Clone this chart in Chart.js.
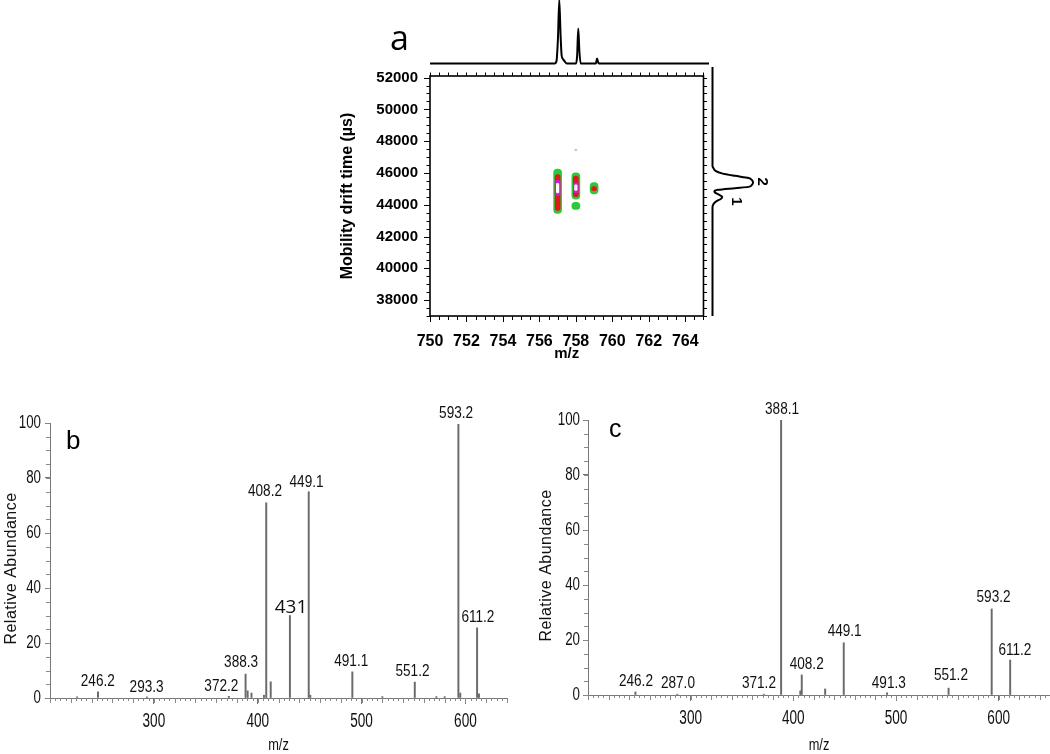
<!DOCTYPE html>
<html>
<head>
<meta charset="utf-8">
<script src="https://cdn.jsdelivr.net/npm/chart.js@4.4.1/dist/chart.umd.min.js"></script>
<style>
  body { margin: 0; background: #fff; width: 1050px; height: 754px; position: relative; overflow: hidden; }
  canvas { position: absolute; }
  .tag { position: absolute; color: #000; line-height: 1; }
</style>
</head>
<body>
<canvas id="topProj" width="280" height="66" style="left:430px;top:0px"></canvas>
<canvas id="mapA" width="385" height="310" style="left:330px;top:55px"></canvas>
<canvas id="sideProj" width="60" height="249" style="left:710px;top:67px"></canvas>
<canvas id="specB" width="520" height="359" style="left:0px;top:395px"></canvas>
<canvas id="specC" width="530" height="359" style="left:520px;top:395px"></canvas>
<div class="tag" style="left:390px;top:14px;font:34px 'Open Sans'">a</div>
<div class="tag" style="left:66px;top:425px;font:26px 'Liberation Sans'">b</div>
<div class="tag" style="left:609px;top:414px;font:25px 'Liberation Sans'">c</div>
<script>
// ---- panel a: m/z vs drift time map ----
const aXTicks = [750, 752, 754, 756, 758, 760, 762, 764];
const aYTicks = [38000, 40000, 42000, 44000, 46000, 48000, 50000, 52000];

// summed m/z profile on top
const topMz  = [750, 756.70, 756.80, 756.88, 756.95, 757.02, 757.08, 757.15, 757.25, 757.35, 757.85, 757.91, 757.97, 758.03, 758.10, 758.92, 758.98, 759.04, 759.10, 765];
const topInt = [0, 0, 4, 40, 100, 45, 12, 7, 3, 0, 0, 12, 55, 20, 0, 0, 8, 2, 0, 0];

// summed drift profile on the right
const sideDrift = [37000, 43600, 43800, 43950, 44100, 44220, 44350, 44480, 44560, 44650, 44750, 44830, 44950, 45100, 45250, 45370, 45500, 45650, 45800, 45950, 46100, 52100];
const sideInt   = [0, 0, 3, 10, 22, 26, 18, 7, 5, 15, 60, 96, 105, 108, 105, 96, 60, 25, 8, 3, 0, 0];
const sideLabText  = ['2', '1'];
const sideLabInt   = [132, 63];
const sideLabDrift = [45150, 43950];

// contour blobs: m/z, drift range, contour level (1 outer .. 4 inner, 0 faint)
const contourMz    = [757, 757, 757, 757, 758, 758, 758, 758, 758, 759, 759, 758];
const contourLow   = [43450, 43650, 44550, 44750, 44350, 44500, 44750, 44900, 43700, 44680, 44880, 47400];
const contourHigh  = [46250, 45900, 45550, 45350, 46000, 45800, 45400, 45250, 44150, 45400, 45150, 47500];
const contourLevel = [1, 2, 3, 4, 1, 2, 3, 4, 1, 1, 2, 0];

// ---- panel b: MS/MS spectrum ----
const bMz    = [226, 246.2, 293.3, 372.2, 388.3, 390.3, 394, 406, 408.2, 412.5, 431, 449.1, 450.6, 491.1, 520, 551.2, 572, 580, 593.2, 595, 611.2, 613];
const bAbund = [0.4, 2.2, 0.4, 0.6, 8.7, 2.6, 1.8, 1, 71, 5.9, 30, 75, 1, 9.5, 0.5, 5.8, 0.5, 0.5, 99.5, 1.8, 25.5, 1.5];
const bLabText = ['246.2', '293.3', '372.2', '388.3', '408.2', '449.1', '431', '491.1', '551.2', '593.2', '611.2'];
const bLabMz   = [246, 293, 365, 384, 407, 447, 432, 490, 549, 591, 612];
const bLabY    = [6.2, 4, 4.4, 13, 75, 78.5, 32.7, 13.5, 9.8, 103.6, 29.5];

// ---- panel c: MS/MS spectrum ----
const cMz    = [246.2, 287.0, 371.2, 388.1, 406.8, 408.2, 431, 449.1, 491.3, 551.2, 593.2, 611.2];
const cAbund = [1.1, 0.3, 0.3, 100, 1.5, 7.3, 2.2, 19, 0.8, 2.5, 31.3, 12.7];
const cLabText = ['246.2', '287.0', '371.2', '388.1', '408.2', '449.1', '491.3', '551.2', '593.2', '611.2'];
const cLabMz   = [246.7, 287.6, 366.5, 389, 413, 450, 493, 553.5, 595, 615.8];
const cLabY    = [5.1, 4.4, 4.4, 104, 11.3, 23, 4.4, 7, 35.6, 16.4];

const specXTicks = [300, 400, 500, 600];
const specYTicks = [0, 20, 40, 60, 80, 100];

const noLegend = { legend: { display: false }, tooltip: { enabled: false } };

function setTicks(values) {
  return function (scale) { scale.ticks = values.map(v => ({ value: v })); };
}

function tickRun(chart, axis, start, end, step, lenFn, edge, dir) {
  const s = chart.scales[axis];
  const ctx = chart.ctx;
  ctx.beginPath();
  for (let i = 0; start + i * step <= end + 1e-9; i++) {
    const v = start + i * step;
    const p = Math.round(s.getPixelForValue(v)) + 0.5;
    const len = lenFn(v);
    if (axis === 'x') { ctx.moveTo(p, edge); ctx.lineTo(p, edge + dir * len); }
    else { ctx.moveTo(edge, p); ctx.lineTo(edge + dir * len, p); }
  }
  ctx.stroke();
}

// condensed text, like the instrument software's narrow font
function narrowText(ctx, text, x, y, size, squeeze, align, rot) {
  ctx.save();
  ctx.translate(x, y);
  if (rot) ctx.rotate(rot);
  ctx.scale(squeeze, 1);
  ctx.font = size + "px 'Liberation Sans'";
  ctx.textAlign = align;
  ctx.textBaseline = 'middle';
  ctx.fillText(text, 0, 0);
  ctx.restore();
}

// top projection
new Chart(document.getElementById('topProj'), {
  type: 'line',
  data: {
    datasets: [{
      data: topMz.map((m, i) => ({ x: m, y: topInt[i] })),
      borderColor: '#000', borderWidth: 2, pointRadius: 0,
      cubicInterpolationMode: 'monotone', clip: false
    }]
  },
  options: {
    responsive: false, animation: false,
    layout: { padding: { left: 0, right: 1, top: 0, bottom: 2.5 } },
    plugins: noLegend,
    scales: {
      x: { type: 'linear', min: 750, max: 765, display: false },
      y: { min: 0, max: 100, display: false }
    }
  }
});

// right projection
new Chart(document.getElementById('sideProj'), {
  type: 'line',
  data: {
    datasets: [{
      data: sideDrift.map((d, i) => ({ x: sideInt[i], y: d })),
      borderColor: '#000', borderWidth: 2, pointRadius: 0,
      cubicInterpolationMode: 'monotone', clip: false
    }]
  },
  options: {
    responsive: false, animation: false, indexAxis: 'y',
    layout: { padding: { left: 2.5, right: 20, top: 0, bottom: 0 } },
    plugins: noLegend,
    scales: {
      x: { type: 'linear', min: 0, max: 100, display: false },
      y: { type: 'linear', min: 37000, max: 52100, display: false }
    }
  },
  plugins: [{
    id: 'peakNums',
    afterDraw(chart) {
      const { ctx, scales: { x, y } } = chart;
      ctx.save();
      ctx.font = "bold 15px 'Liberation Sans'";
      ctx.fillStyle = '#000';
      ctx.textAlign = 'center';
      ctx.textBaseline = 'middle';
      sideLabText.forEach((t, i) => {
        ctx.save();
        ctx.translate(x.getPixelForValue(sideLabInt[i]), y.getPixelForValue(sideLabDrift[i]));
        ctx.rotate(Math.PI / 2);
        ctx.fillText(t, 0, 0);
        ctx.restore();
      });
      ctx.restore();
    }
  }]
});

// contour map
const levelStyle = {
  1: { color: '#2cc83a', w: 8 },
  2: { color: '#e01818', w: 5 },
  3: { color: '#d21ad6', w: 5 },
  4: { color: '#ffffff', w: 2.5 },
  0: { color: '#c8c8c8', w: 2 }
};
const contourSets = [4, 3, 2, 1, 0].map(lv => ({
  data: contourMz.map((m, i) => ({ x: m, y: [contourLow[i], contourHigh[i]], lv: contourLevel[i] }))
                 .filter(p => p.lv === lv),
  backgroundColor: levelStyle[lv].color,
  barThickness: levelStyle[lv].w,
  borderRadius: levelStyle[lv].w / 2,
  borderSkipped: false,
  grouped: false
}));

const boldTick = { family: 'Liberation Sans', size: 15, weight: 'bold' };
new Chart(document.getElementById('mapA'), {
  type: 'bar',
  data: { datasets: contourSets },
  options: {
    responsive: false, animation: false,
    layout: { padding: { left: 0, right: 6, top: 12, bottom: 0 } },
    plugins: noLegend,
    scales: {
      x: {
        type: 'linear', min: 750, max: 765, offset: false,
        afterBuildTicks: setTicks(aXTicks),
        afterFit(s) { s.height = 49; },
        grid: { display: false, drawTicks: false, offset: false },
        border: { display: false },
        ticks: { color: '#000', font: { ...boldTick, size: 16 }, padding: 16, callback: v => String(v) },
        title: { display: true, text: 'm/z', color: '#000',
                 font: { family: 'Liberation Sans', size: 15, weight: 'bold', lineHeight: 1 },
                 padding: { top: 0, bottom: 4 } }
      },
      y: {
        type: 'linear', min: 37000, max: 52100,
        afterBuildTicks: setTicks(aYTicks),
        afterFit(s) { s.width = 100; },
        grid: { display: false, drawTicks: false },
        border: { display: false },
        ticks: { color: '#000', font: boldTick, padding: 12, callback: v => String(v) },
        title: { display: true, text: 'Mobility drift time (µs)', color: '#000',
                 font: { family: 'Liberation Sans', size: 16, weight: 'bold', lineHeight: 1 },
                 padding: { top: 10, bottom: 0 } }
      }
    }
  },
  plugins: [{
    id: 'frameA',
    afterDraw(chart) {
      const { ctx, chartArea: ca } = chart;
      ctx.save();
      ctx.strokeStyle = '#000';
      ctx.lineWidth = 1;
      tickRun(chart, 'y', 37000, 52000, 500, v => v % 2000 === 0 ? 6 : 3.5, ca.left, -1);
      tickRun(chart, 'y', 37000, 52000, 500, () => 3.5, ca.right, 1);
      tickRun(chart, 'x', 750, 765, 0.5, v => v % 2 === 0 ? 6 : 4, ca.bottom, 1);
      tickRun(chart, 'x', 750, 765, 0.5, () => 3.5, ca.top, -1);
      ctx.lineWidth = 1.6;
      ctx.strokeRect(ca.left, ca.top, ca.right - ca.left, ca.bottom - ca.top);
      ctx.restore();
    }
  }]
});

// MS/MS spectra
function spectrum(id, mz, ab, labText, labMz, labY, xMax, yAxisW, padRight, padTop, yTitleX, yLabGap) {
  return new Chart(document.getElementById(id), {
    type: 'bar',
    data: {
      datasets: [{
        data: mz.map((m, i) => ({ x: m, y: ab[i] })),
        backgroundColor: '#6a6a6a', barThickness: 1.3, grouped: false
      }]
    },
    options: {
      responsive: false, animation: false,
      layout: { padding: { left: 0, right: padRight, top: padTop, bottom: 0 } },
      plugins: noLegend,
      scales: {
        x: {
          type: 'linear', min: 200, max: xMax, offset: false,
          afterBuildTicks: setTicks(specXTicks),
          afterFit(s) { s.height = 359 - padTop - 275; },
          grid: { display: true, drawOnChartArea: false, drawTicks: true, tickLength: 6, tickColor: '#777', offset: false },
          border: { display: true, color: '#777', width: 1 },
          ticks: { display: false }
        },
        y: {
          type: 'linear', min: 0, max: 100,
          afterBuildTicks: setTicks(specYTicks),
          afterFit(s) { s.width = yAxisW; },
          grid: { display: true, drawOnChartArea: false, drawTicks: true, tickLength: 5, tickColor: '#777' },
          border: { display: true, color: '#777', width: 1 },
          ticks: { display: false }
        }
      }
    },
    plugins: [{
      id: 'specExtras',
      afterDraw(chart) {
        const { ctx, chartArea: ca, scales: { x, y } } = chart;
        ctx.save();
        ctx.strokeStyle = '#888';
        ctx.lineWidth = 1;
        tickRun(chart, 'x', 200, xMax, 5, v => v % 20 === 0 ? 5 : 3, ca.bottom, 1);
        tickRun(chart, 'y', 0, 100, 5, () => 4, ca.left, -1);
        ctx.fillStyle = '#111';
        specXTicks.forEach(v => narrowText(ctx, String(v), x.getPixelForValue(v), ca.bottom + 23, 20, 0.68, 'center'));
        specYTicks.forEach(v => narrowText(ctx, String(v), ca.left - yLabGap, y.getPixelForValue(v), 18, 0.74, 'right'));
        narrowText(ctx, 'm/z', (ca.left + ca.right) / 2, chart.height - 8, 16, 0.8, 'center');
        ctx.save();
        ctx.translate(yTitleX, (ca.top + ca.bottom) / 2 + 8);
        ctx.rotate(-Math.PI / 2);
        ctx.font = "16px 'Liberation Sans'";
        ctx.letterSpacing = '0.5px';
        ctx.textAlign = 'center';
        ctx.textBaseline = 'middle';
        ctx.fillText('Relative Abundance', 0, 0);
        ctx.restore();
        labText.forEach((t, i) => {
          const px = x.getPixelForValue(labMz[i]), py = y.getPixelForValue(labY[i]);
          if (t === '431') {
            ctx.font = "19px 'Open Sans'";
            ctx.textAlign = 'center';
            ctx.textBaseline = 'middle';
            ctx.fillText(t, px, py);
          } else {
            narrowText(ctx, t, px, py, 17, 0.8, 'center');
          }
        });
        ctx.restore();
      }
    }]
  });
}

spectrum('specB', bMz, bAbund, bLabText, bLabMz, bLabY, 640, 50, 13, 28, 12, 9);
spectrum('specC', cMz, cAbund, cLabText, cLabMz, cLabY, 650, 68, 0, 25, 27, 8);
</script>
</body>
</html>
